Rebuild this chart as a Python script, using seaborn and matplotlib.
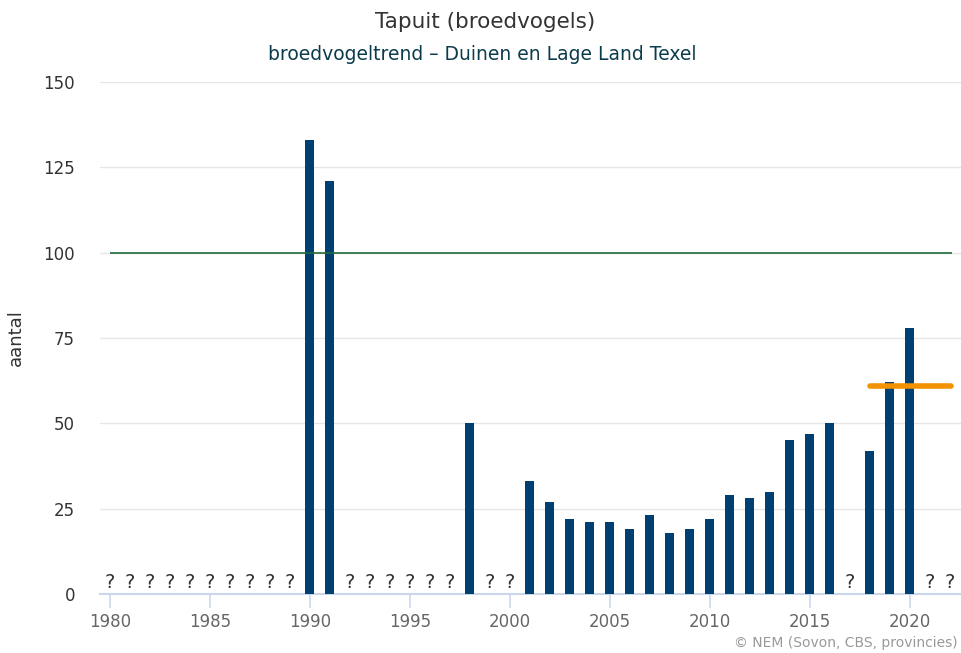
"""
Tapuit (broedvogels) - broedvogeltrend Duinen en Lage Land Texel
"""

import numpy as np
import pandas as pd
import matplotlib
matplotlib.use("Agg")
import matplotlib.pyplot as plt
import seaborn as sns

sns.set_theme(style="white")
plt.rcParams["font.family"] = ["DejaVu Sans"]

# data (None = unknown, shown as "?")
years = list(range(1980, 2023))
counts = [None] * 10 + [133, 121] + [None] * 6 + [50] + [None] * 2 + \
    [33, 27, 22, 21, 21, 19, 23, 18, 19, 22, 29, 28, 30, 45, 47, 50, None,
     42, 62, 78, None, None]
reference_level = 100
recent_mean = 61
recent_span = [2018.0, 2022.05]

df = pd.DataFrame({"jaar": years, "aantal": counts})
df["aantal"] = df["aantal"].astype(float)

fig = plt.figure(figsize=(9.61, 6.53), dpi=100)
ax = fig.add_axes([0.104, 0.0904, 0.8955, 0.784])

sns.barplot(data=df.dropna(), x="jaar", y="aantal", native_scale=True,
            width=0.46, color="#003f72", saturation=1, linewidth=0,
            ax=ax, zorder=3)

# unknown years
for yr in df.loc[df["aantal"].isna(), "jaar"]:
    ax.text(yr, 0.6, "?", ha="center", va="bottom", fontsize=14,
            color="#333333", zorder=4)

ax.hlines(reference_level, 1980, 2022.1, color="#1d6b3a", lw=1.2, zorder=4)
ax.hlines(recent_mean, recent_span[0], recent_span[1], color="#f39200",
          lw=4, zorder=5, capstyle="round")

ax.set_xlim(1979.5, 2022.55)
ax.set_ylim(0, 150)
ax.set_yticks([0, 25, 50, 75, 100, 125, 150])
ax.set_xticks(range(1980, 2021, 5))
ax.grid(axis="y", color="#e6e6e6", lw=1, zorder=0)
ax.grid(axis="x", visible=False)

for s in ["top", "right", "left"]:
    ax.spines[s].set_visible(False)
ax.spines["bottom"].set_color("#ccd6eb")
ax.spines["bottom"].set_linewidth(1.5)
ax.tick_params(axis="x", bottom=True, color="#ccd6eb", labelcolor="#666666",
               labelsize=12, length=10, width=1.2, direction="out", pad=4)
ax.tick_params(axis="y", left=False, labelcolor="#333333", labelsize=12,
               length=0, pad=18)

ax.set_xlabel("")
ax.set_ylabel("aantal", fontsize=13, color="#333333")
ax.yaxis.set_label_coords(-0.087, 0.5)

fig.text(0.505, 0.966, "Tapuit (broedvogels)", ha="center", va="center",
         fontsize=15.5, color="#333333")
fig.text(0.502, 0.916, "broedvogeltrend \u2013 Duinen en Lage Land Texel",
         ha="center", va="center", fontsize=13.5, color="#0b3c4c")
fig.text(0.997, 0.016, "\u00a9 NEM (Sovon, CBS, provincies)", ha="right",
         va="center", fontsize=10, color="#999999")

fig.savefig("out.png", dpi=100)
